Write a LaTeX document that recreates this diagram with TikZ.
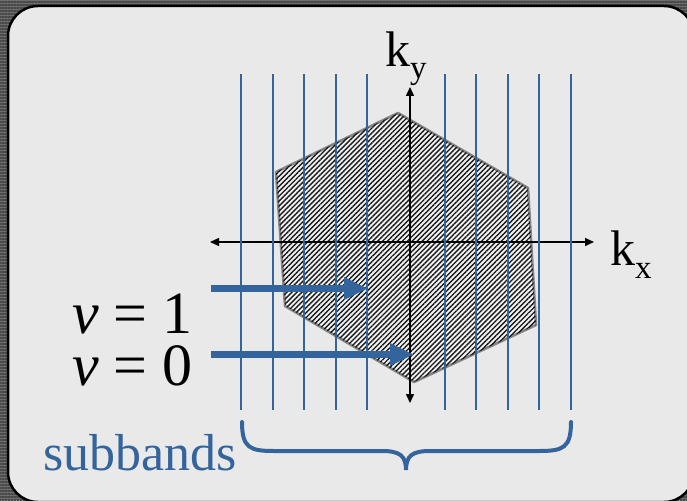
\documentclass[tikz,border=0pt]{standalone}
\usepackage{fontspec}
\setmainfont{Liberation Serif}
\usetikzlibrary{arrows.meta,patterns.meta}
\definecolor{bandblue}{RGB}{52,100,156}
\definecolor{panel}{RGB}{233,233,233}
\definecolor{outer}{RGB}{110,110,110}
\definecolor{outerline}{RGB}{72,72,72}
\definecolor{hexedge}{RGB}{135,135,135}
\tikzset{
  bandline/.style={draw=bandblue, line width=2pt},
  axis/.style={draw=black, line width=1.4pt, {Triangle[length=9pt,width=8pt]}-{Triangle[length=9pt,width=8pt]}},
  bigarrow/.style={draw=bandblue, line width=6.5pt, -{Triangle[length=24pt,width=21pt]}},
  brace/.style={draw=bandblue, line width=4pt, line cap=round},
  hexstyle/.style={draw=hexedge, line width=2.6pt, line join=round, fill=white!95!black,
    postaction={pattern={Lines[angle=45,distance=3.5pt,line width=1.35pt]}, pattern color=black!90}},
  vlabel/.style={inner sep=0pt, anchor=base west, text height=44pt, text depth=0pt, font=\fontsize{60}{60}\selectfont},
}
\begin{document}
\begin{tikzpicture}[x=1pt,y=-1pt]
\useasboundingbox (0,0) rectangle (687,500);
% outer striped background
\fill[outer] (0,0) rectangle (687,500);
\fill[pattern={Lines[angle=0,distance=3pt,line width=1.4pt]}, pattern color=outerline] (0,0) rectangle (687,500);
% panel
\draw[fill=panel, line width=2.5pt, rounded corners=30pt] (8,6) rectangle (694,502);
% hexagon
\path[hexstyle] (398,113) -- (528,188) -- (536,325) -- (414,382) -- (285,306) -- (276,172) -- cycle;
% axes
\coordinate (xl) at (210,242);
\coordinate (xr) at (594,242);
\coordinate (yt) at (410,87);
\coordinate (yb) at (410,403);
\draw[axis] (xl) -- (xr);
\draw[axis] (yt) -- (yb);
% subband lines
\foreach \x [count=\i] in {241,272.5,304,335.5,367,445,476,507.5,539,570.5} {
  \coordinate (t\i) at (\x,74);
  \coordinate (b\i) at (\x,410);
  \draw[bandline] (t\i) -- (b\i);
}
% arrows
\coordinate (a1s) at (211,288.5);
\coordinate (a1e) at (368,288.5);
\coordinate (a0s) at (211,354.5);
\coordinate (a0e) at (414,354.5);
\draw[bigarrow] (a1s) -- (a1e);
\draw[bigarrow] (a0s) -- (a0e);
% labels
\node[vlabel] (v1) at (72,333) {\textit{v} = 1};
\node[vlabel] (v0) at (72,385) {\textit{v} = 0};
\node[inner sep=0pt, anchor=base west, font=\fontsize{50}{50}\selectfont] (ky) at (385,67) {k\raisebox{-12pt}{\fontsize{33}{33}\selectfont y}};
\node[inner sep=0pt, anchor=base west, font=\fontsize{50}{50}\selectfont] (kx) at (610,265) {k\raisebox{-13pt}{\fontsize{33}{33}\selectfont x}};
\node[inner sep=0pt, anchor=base west, text=bandblue, font=\fontsize{52}{52}\selectfont] (sb) at (43,470) {subbands};
% brace
\draw[brace] (242,422) .. controls (242,448) and (250,451) .. (274,451) -- (382,451) .. controls (400,451) and (406,456) .. (406,470) .. controls (406,456) and (412,451) .. (430,451) -- (539,451) .. controls (563,451) and (571,448) .. (571,422);
\end{tikzpicture}
\end{document}
